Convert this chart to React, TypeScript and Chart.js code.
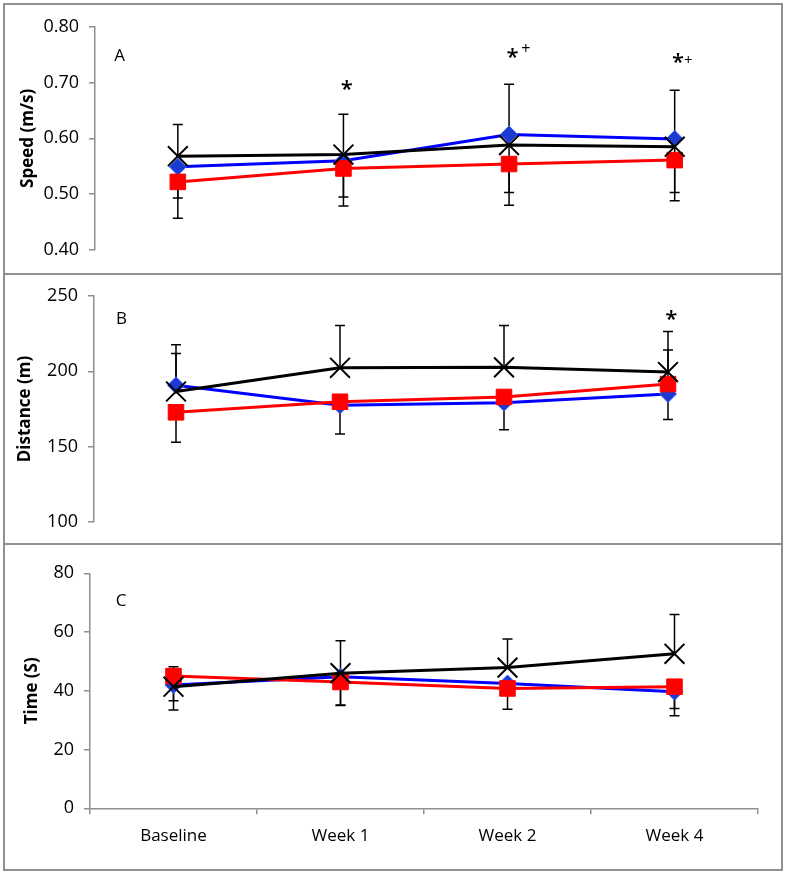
import { useEffect, useRef } from "react";
import { Chart, registerables } from "chart.js";
Chart.register(...registerables);

const categories = ["Baseline", "Week 1", "Week 2", "Week 4"];

// Panel A – Speed (m/s)
const speedBlue = [0.549, 0.56, 0.607, 0.599];
const speedRed = [0.522, 0.546, 0.554, 0.561];
const speedBlack = [0.568, 0.571, 0.588, 0.585];
const speedBlackUpper = [0.625, 0.643, 0.697, 0.686];
const speedBlueLower = [0.493, 0.495, 0.503, 0.503];
const speedRedLower = [0.457, 0.479, 0.48, 0.488];

// Panel B – Distance (m)
const distBlue = [190.7, 177.5, 179.2, 185.0];
const distRed = [172.8, 179.8, 183.0, 191.5];
const distBlack = [186.6, 202.3, 202.6, 199.5];
const distBlackUpper = [211.8, 230.4, 230.4, 226.3];
const distBlueUpper = [217.6, null, null, 214.1];
const distRedLower = [153.0, 158.4, 161.3, 168.0];

// Panel C – Time (S)
const timeBlue = [42.0, 44.8, 42.5, 39.7];
const timeRed = [45.0, 43.0, 40.8, 41.4];
const timeBlack = [41.4, 46.0, 47.9, 52.6];
const timeBlackUpper = [48.2, 57.0, 57.6, 66.0];
const timeBlueLower = [36.6, 35.2, 33.7, 34.0];
const timeRedLower = [33.5, 35.0, null, 31.5];

// Text marks anchored at (category index, value)
const speedNotes = [
  { text: "A", x: -0.35, y: 0.749, kind: "letter" },
  { text: "*", x: 1.02, y: 0.6955, kind: "star" },
  { text: "*", x: 2.02, y: 0.753, kind: "star" },
  { text: "+", x: 2.1, y: 0.761, kind: "plus" },
  { text: "*", x: 3.02, y: 0.744, kind: "star" },
  { text: "+", x: 3.08, y: 0.742, kind: "plusSmall" },
];
const distNotes = [
  { text: "B", x: -0.33, y: 235.1, kind: "letter" },
  { text: "*", x: 3.02, y: 237.0, kind: "star" },
];
const timeNotes = [{ text: "C", x: -0.31, y: 70.9, kind: "letter" }];

const FONT = "'Open Sans', 'Liberation Sans', sans-serif";
const GRAY = "#8f8f8f";

const noteFonts: Record<string, string> = {
  letter: `17px ${FONT}`,
  star: `600 22px ${FONT}`,
  plus: `16px ${FONT}`,
  plusSmall: `15px ${FONT}`,
};

const errorBarPlugin = {
  id: "errorBars",
  beforeDatasetsDraw(chart: any) {
    const ctx = chart.ctx;
    const xs = chart.scales.x;
    const ys = chart.scales.y;
    ctx.save();
    ctx.strokeStyle = "#000";
    ctx.lineWidth = 1.5;
    chart.data.datasets.forEach((ds: any) => {
      const vals = ds.data as number[];
      vals.forEach((v, i) => {
        const x = xs.getPixelForValue(i);
        const y0 = ys.getPixelForValue(v);
        const draw = (end: number | null | undefined) => {
          if (end === null || end === undefined) return;
          const y1 = ys.getPixelForValue(end);
          ctx.beginPath();
          ctx.moveTo(x, y0);
          ctx.lineTo(x, y1);
          ctx.moveTo(x - 5, y1);
          ctx.lineTo(x + 5, y1);
          ctx.stroke();
        };
        if (ds.errUpper) draw(ds.errUpper[i]);
        if (ds.errLower) draw(ds.errLower[i]);
      });
    });
    ctx.restore();
  },
};

const notesPlugin = {
  id: "notes",
  afterDatasetsDraw(chart: any, _args: any, opts: any) {
    const notes = opts.items || [];
    const ctx = chart.ctx;
    const xs = chart.scales.x;
    const ys = chart.scales.y;
    ctx.save();
    ctx.fillStyle = "#000";
    ctx.textAlign = "left";
    ctx.textBaseline = "alphabetic";
    notes.forEach((n: any) => {
      ctx.font = noteFonts[n.kind];
      const m = ctx.measureText(n.text);
      const cx = xs.getPixelForValue(n.x);
      const cy = ys.getPixelForValue(n.y);
      const L = m.actualBoundingBoxLeft;
      const R = m.actualBoundingBoxRight;
      const A = m.actualBoundingBoxAscent;
      const D = m.actualBoundingBoxDescent;
      ctx.fillText(n.text, cx - (R - L) / 2, cy + (A - D) / 2);
    });
    ctx.restore();
  },
};

function makeDatasets(black: number[], red: number[], blue: number[], errs: any) {
  return [
    {
      label: "Black",
      data: black,
      borderColor: "#000",
      borderWidth: 3,
      pointStyle: "crossRot",
      pointRadius: 14,
      pointBorderColor: "#000",
      pointBorderWidth: 2,
      pointBackgroundColor: "#000",
      tension: 0,
      errUpper: errs.blackUpper,
      errLower: errs.blackLower,
    },
    {
      label: "Red",
      data: red,
      borderColor: "#ff0000",
      borderWidth: 3,
      pointStyle: "rect",
      pointRadius: 11,
      pointBorderColor: "#ff0000",
      pointBorderWidth: 1,
      pointBackgroundColor: "#ff0000",
      tension: 0,
      errUpper: errs.redUpper,
      errLower: errs.redLower,
    },
    {
      label: "Blue",
      data: blue,
      borderColor: "#0000ff",
      borderWidth: 3,
      pointStyle: "rectRot",
      pointRadius: 8.5,
      pointBorderColor: "#3a5cff",
      pointBorderWidth: 1,
      pointBackgroundColor: "#1a3ad0",
      tension: 0,
      errUpper: errs.blueUpper,
      errLower: errs.blueLower,
    },
  ];
}

function makeChart(canvas: HTMLCanvasElement, cfg: any) {
  const xScale: any = cfg.showX
    ? {
        offset: true,
        grid: { offset: true, drawOnChartArea: false, drawTicks: true, tickLength: 6, color: GRAY, lineWidth: 1.5 },
        border: { color: GRAY, width: 1.5 },
        ticks: { font: { family: FONT, size: 17 }, color: "#000", padding: 12 },
        afterFit: (s: any) => {
          s.height = cfg.xHeight;
        },
      }
    : { display: false, offset: true };
  return new Chart(canvas, {
    type: "line",
    data: { labels: categories, datasets: cfg.datasets },
    options: {
      responsive: false,
      animation: false,
      events: [],
      layout: { padding: cfg.padding },
      plugins: { legend: { display: false }, tooltip: { enabled: false }, notes: { items: cfg.notes } } as any,
      scales: {
        x: xScale,
        y: {
          min: cfg.min,
          max: cfg.max,
          ticks: {
            stepSize: cfg.step,
            callback: (v: any) => Number(v).toFixed(cfg.decimals),
            font: { family: FONT, size: 18 },
            color: "#000",
            padding: 10,
          },
          grid: { drawOnChartArea: false, drawTicks: true, tickLength: 6, color: GRAY, lineWidth: 1.5 },
          border: { color: GRAY, width: 1.5 },
          title: {
            display: true,
            text: cfg.title,
            font: { family: FONT, size: 17, weight: "bold" },
            color: "#000",
            padding: { top: cfg.titlePad, bottom: 0 },
          },
          afterFit: (s: any) => {
            s.width = cfg.yWidth;
          },
        },
      },
    },
    plugins: [errorBarPlugin, notesPlugin],
  } as any);
}

export default function App() {
  const refA = useRef<HTMLCanvasElement>(null);
  const refB = useRef<HTMLCanvasElement>(null);
  const refC = useRef<HTMLCanvasElement>(null);

  useEffect(() => {
    const charts: Chart[] = [];
    charts.push(
      makeChart(refA.current!, {
        datasets: makeDatasets(speedBlack, speedRed, speedBlue, {
          blackUpper: speedBlackUpper,
          blueLower: speedBlueLower,
          redLower: speedRedLower,
        }),
        notes: speedNotes,
        min: 0.4,
        max: 0.8,
        step: 0.1,
        decimals: 2,
        title: "Speed (m/s)",
        titlePad: 12.8,
        yWidth: 90,
        padding: { top: 21.7, right: 23.5, bottom: 23, left: 0 },
        showX: false,
      })
    );
    charts.push(
      makeChart(refB.current!, {
        datasets: makeDatasets(distBlack, distRed, distBlue, {
          blackUpper: distBlackUpper,
          blueUpper: distBlueUpper,
          redLower: distRedLower,
        }),
        notes: distNotes,
        min: 100,
        max: 250,
        step: 50,
        decimals: 0,
        title: "Distance (m)",
        titlePad: 9.8,
        yWidth: 89,
        padding: { top: 11, right: 31, bottom: 14.7, left: 0 },
        showX: false,
      })
    );
    charts.push(
      makeChart(refC.current!, {
        datasets: makeDatasets(timeBlack, timeRed, timeBlue, {
          blackUpper: timeBlackUpper,
          blueLower: timeBlueLower,
          redLower: timeRedLower,
        }),
        notes: timeNotes,
        min: 0,
        max: 80,
        step: 20,
        decimals: 0,
        title: "Time (S)",
        titlePad: 16.8,
        yWidth: 85,
        padding: { top: 28.3, right: 23, bottom: 0, left: 0 },
        showX: true,
        xHeight: 60.7,
      })
    );
    return () => charts.forEach((c) => c.destroy());
  }, []);

  const panel = (top: number, height: number): React.CSSProperties => ({
    position: "absolute",
    left: 3,
    top,
    width: 780,
    height,
    border: `2px solid ${GRAY}`,
    boxSizing: "border-box",
    background: "#fff",
  });

  return (
    <div style={{ position: "absolute", left: 0, top: 0, width: 786, height: 872, background: "#fff" }}>
      <div style={panel(3, 272)}>
        <canvas ref={refA} width={776} height={268} style={{ display: "block" }} />
      </div>
      <div style={panel(273, 272)}>
        <canvas ref={refB} width={776} height={268} style={{ display: "block" }} />
      </div>
      <div style={panel(543, 328)}>
        <canvas ref={refC} width={776} height={324} style={{ display: "block" }} />
      </div>
    </div>
  );
}
